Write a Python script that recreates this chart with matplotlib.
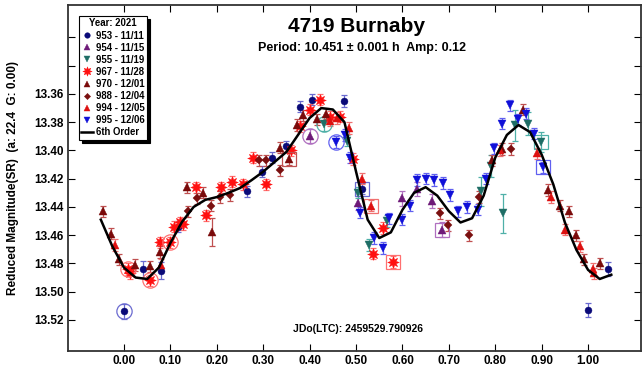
import numpy as np
import matplotlib.pyplot as plt

plt.rcParams['font.family'] = ['Liberation Sans', 'DejaVu Sans']
plt.rcParams['font.weight'] = 'bold'

# --- data (phase, reduced magnitude, error) per session ---
p953 = [0.000, 0.040, 0.080, 0.116, 0.264, 0.297, 0.318, 0.349, 0.379, 0.404, 0.475, 0.512, 1.000, 1.042]
m953 = [13.514, 13.484, 13.485, 13.454, 13.429, 13.415, 13.405, 13.397, 13.369, 13.364, 13.365, 13.427, 13.513, 13.484]
e953 = [0.005, 0.006, 0.006, 0.004, 0.004, 0.004, 0.004, 0.004, 0.004, 0.004, 0.004, 0.004, 0.005, 0.005]

p954 = [0.401, 0.505, 0.598, 0.631, 0.663, 0.685]
m954 = [13.390, 13.437, 13.434, 13.427, 13.436, 13.456]
e954 = [0.005, 0.005, 0.005, 0.005, 0.005, 0.005]

p955 = [0.430, 0.480, 0.505, 0.527, 0.566, 0.769, 0.790, 0.816, 0.843, 0.871, 0.898]
m955 = [13.381, 13.393, 13.430, 13.467, 13.450, 13.429, 13.411, 13.4445, 13.382, 13.381, 13.394]
e955 = [0.005, 0.004, 0.004, 0.004, 0.004, 0.010, 0.008, 0.014, 0.011, 0.008, 0.007]

p967 = [0.009, 0.013, 0.056, 0.078, 0.099, 0.108, 0.121, 0.127, 0.155, 0.177, 0.210, 0.232, 0.257,
        0.279, 0.307, 0.360, 0.379, 0.401, 0.422, 0.444, 0.466, 0.494, 0.536, 0.559, 0.579]
m967 = [13.484, 13.487, 13.492, 13.465, 13.465, 13.454, 13.451, 13.452, 13.426, 13.446, 13.426, 13.422, 13.424,
        13.405, 13.424, 13.400, 13.383, 13.371, 13.364, 13.376, 13.376, 13.406, 13.473, 13.455, 13.479]
e967 = [0.004] * len(p967)

p970 = [-0.046, -0.027, -0.010, 0.024, 0.056, 0.078, 0.135, 0.171, 0.189, 0.336, 0.356, 0.372, 0.386,
        0.415, 0.435, 0.794, 0.814, 0.860, 0.914, 0.940, 0.958, 0.974, 0.991, 1.026]
m970 = [13.443, 13.459, 13.477, 13.481, 13.482, 13.472, 13.426, 13.430, 13.458, 13.398, 13.406, 13.382, 13.375,
        13.378, 13.374, 13.407, 13.399, 13.371, 13.428, 13.439, 13.443, 13.460, 13.477, 13.480]
e970 = [0.004, 0.004, 0.004, 0.004, 0.004, 0.004, 0.004, 0.004, 0.010, 0.004, 0.004, 0.004, 0.004,
        0.004, 0.004, 0.004, 0.004, 0.004, 0.004, 0.004, 0.004, 0.004, 0.004, 0.004]

p988 = [0.138, 0.158, 0.188, 0.207, 0.228, 0.290, 0.307, 0.336, 0.680, 0.699, 0.744, 0.765, 0.834]
m988 = [13.443, 13.434, 13.439, 13.433, 13.4315, 13.407, 13.407, 13.414, 13.4445, 13.453, 13.460, 13.433, 13.399]
e988 = [0.004] * len(p988)

p994 = [-0.019, 0.080, 0.444, 0.458, 0.484, 0.512, 0.532, 0.810, 0.889, 0.920, 0.950, 0.983, 1.010, 1.013]
m994 = [13.467, 13.481, 13.379, 13.377, 13.384, 13.420, 13.439, 13.400, 13.402, 13.433, 13.456, 13.468, 13.484, 13.487]
e994 = [0.004] * len(p994)

p995 = [0.457, 0.476, 0.487, 0.509, 0.539, 0.557, 0.572, 0.598, 0.616, 0.632, 0.651, 0.668, 0.687,
        0.703, 0.720, 0.739, 0.762, 0.780, 0.798, 0.814, 0.832, 0.848, 0.866, 0.884, 0.902]
m995 = [13.394, 13.389, 13.405, 13.444, 13.462, 13.469, 13.448, 13.449, 13.439, 13.421, 13.420, 13.421, 13.423,
        13.4315, 13.443, 13.440, 13.442, 13.420, 13.3985, 13.381, 13.368, 13.378, 13.374, 13.388, 13.412]
e995 = [0.004] * len(p995)

# points drawn with a ring / a box around them (indices into each session)
ring = {'953': [0], '954': [0], '955': [0], '967': [0, 2, 4], '995': [0]}
box = {'953': [11], '954': [5], '955': [10], '967': [24], '970': [10], '994': [6], '995': [24]}

# 6th order Fourier fit
fit_phase = [-0.05, -0.025, 0.0, 0.025, 0.05, 0.075, 0.10, 0.125, 0.15, 0.175, 0.20, 0.225, 0.25,
             0.275, 0.30, 0.325, 0.35, 0.375, 0.40, 0.425, 0.45, 0.475, 0.50, 0.525, 0.55, 0.575,
             0.60, 0.625, 0.65, 0.675, 0.70, 0.725, 0.75, 0.775, 0.80, 0.825, 0.85, 0.875, 0.90,
             0.925, 0.95, 0.975, 1.00, 1.025, 1.05]
fit_mag = [13.449, 13.468, 13.483, 13.490, 13.491, 13.483, 13.4655, 13.4506, 13.440, 13.435, 13.433, 13.430, 13.4266,
           13.421, 13.415, 13.408, 13.401, 13.389, 13.377, 13.370, 13.371, 13.380, 13.415, 13.449, 13.462, 13.458,
           13.442, 13.430, 13.426, 13.432, 13.443, 13.451, 13.448, 13.432, 13.405, 13.389, 13.382, 13.387, 13.403,
           13.424, 13.451, 13.4705, 13.4846, 13.491, 13.488]

sessions = [
    ('953', '953 - 11/11', p953, m953, e953, 'o', '#0a0a78', '#6a6ad0', 5),
    ('954', '954 - 11/15', p954, m954, e954, '^', '#6e1a78', '#b070c0', 5.5),
    ('955', '955 - 11/19', p955, m955, e955, 'v', '#1f6e66', '#4fb0a8', 5.5),
    ('967', '967 - 11/28', p967, m967, e967, (8, 1, 0), '#ff1010', '#ff7070', 8.5),
    ('970', '970 - 12/01', p970, m970, e970, '^', '#7a0a0a', '#c05050', 5.5),
    ('988', '988 - 12/04', p988, m988, e988, 'D', '#7a1010', '#c05050', 4),
    ('994', '994 - 12/05', p994, m994, e994, '^', '#dd1010', '#f07070', 5.5),
    ('995', '995 - 12/06', p995, m995, e995, 'v', '#1010d8', '#6060f0', 5.5),
]

fig = plt.figure(figsize=(6.42, 3.68), dpi=100)
ax = fig.add_axes([68 / 642, 1 - 351 / 368, 573 / 642, 346 / 368])

for key, label, ph, mg, er, mk, col, ecol, ms in sessions:
    ax.errorbar(ph, mg, yerr=er, fmt='none', ecolor=ecol, elinewidth=0.9, capsize=2, capthick=0.9, zorder=2)
    ax.plot(ph, mg, ls='none', marker=mk, color=col, markersize=ms, markeredgewidth=0.3,
            label=label, zorder=3)
    ph = np.array(ph)
    mg = np.array(mg)
    if key in ring:
        i = ring[key]
        ax.plot(ph[i], mg[i], ls='none', marker='o', mfc='none', mec=ecol, markersize=11,
                markeredgewidth=0.9, zorder=3)
    if key in box:
        i = box[key]
        ax.plot(ph[i], mg[i], ls='none', marker='s', mfc='none', mec=ecol, markersize=10,
                markeredgewidth=0.9, zorder=3)

ax.plot(fit_phase, fit_mag, color='black', lw=1.8, label='6th Order', zorder=4)

ax.set_xlim(-0.1207, 1.114)
ax.set_ylim(13.542, 13.297)
ax.set_xticks(np.arange(0, 1.01, 0.1))
ax.set_xticklabels(['%.2f' % v for v in np.arange(0, 1.01, 0.1)], fontsize=8.5, fontweight='bold')
yt = np.arange(13.32, 13.525, 0.02)
ax.set_yticks(yt)
ax.set_yticklabels(['' if v < 13.355 else '%.2f' % v for v in yt], fontsize=8.5, fontweight='bold')
ax.tick_params(axis='x', direction='in', top=True, length=5, width=0.8, pad=3)
ax.tick_params(axis='y', direction='in', right=True, length=5, width=0.8, pad=3)
for s in ax.spines.values():
    s.set_linewidth(1.3)
    s.set_color('#333333')

ax.set_ylabel('Reduced Magnitude(SR)  (a: 22.4  G: 0.00)', fontsize=8.5, fontweight='bold', labelpad=11)

fig.text(357 / 642, 1 - 27 / 368, '4719 Burnaby', ha='center', va='center', fontsize=15, fontweight='bold')
fig.text(362 / 642, 1 - 48 / 368, 'Period: 10.451 \u00b1 0.001 h  Amp: 0.12', ha='center', va='center',
         fontsize=9, fontweight='bold')
fig.text(358 / 642, 1 - 329 / 368, 'JDo(LTC): 2459529.790926', ha='center', va='center',
         fontsize=7.5, fontweight='bold')

leg = ax.legend(loc='upper left', bbox_to_anchor=(79 / 642, 1 - 16 / 368), bbox_transform=fig.transFigure,
                title='Year: 2021', fontsize=6.9, title_fontsize=6.9, frameon=True, fancybox=False,
                shadow={'color': 'black', 'alpha': 1}, borderaxespad=0, borderpad=0.25, labelspacing=0.22,
                handlelength=1.2, handletextpad=0.3, markerscale=0.8)
leg.get_frame().set_edgecolor('black')
leg.get_frame().set_linewidth(0.8)
leg.get_title().set_fontweight('bold')

plt.savefig('out.png', dpi=100)
